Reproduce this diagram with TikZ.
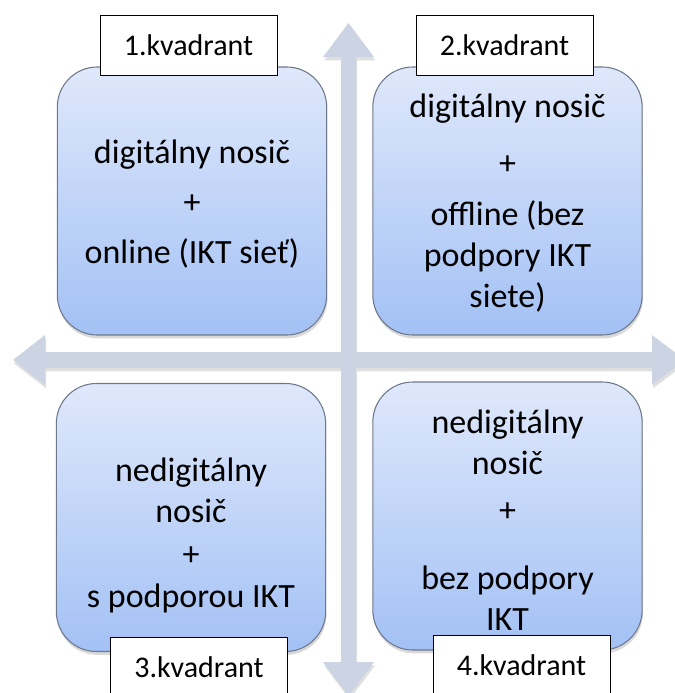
\documentclass[tikz,border=0pt]{standalone}
\usepackage{fontspec}
\setmainfont{Carlito}
\usetikzlibrary{shadows,positioning}

\definecolor{axisblue}{RGB}{204,212,228}
\definecolor{boxtop}{RGB}{223,232,251}
\definecolor{boxbottom}{RGB}{163,193,245}
\definecolor{boxline}{RGB}{110,120,140}

\begin{document}
\begin{tikzpicture}
[
	x=0.75pt,y=-0.75pt,
	quad/.style={rectangle,rounded corners=30pt,draw=boxline,line width=0.8pt,top color=boxtop,bottom color=boxbottom,minimum width=202pt,minimum height=201pt,align=center,font=\fontsize{25.5}{31}\selectfont,drop shadow={shadow xshift=0.6pt,shadow yshift=-2.5pt,opacity=0.3}},
	tag/.style={rectangle,draw=black,fill=white,line width=0.6pt,minimum width=132.75pt,minimum height=45pt,inner sep=0pt,font=\fontsize{22.5}{26}\selectfont},
	axis/.style={fill=axisblue,drop shadow={shadow xshift=0.8pt,shadow yshift=-2.5pt,opacity=0.25}},
]
	\useasboundingbox (0,0) rectangle (675,693);

	\begin{scope}
		\fill[axis] (348.5,23) -- (374,57) -- (356,57) -- (356,352) -- (652,352) -- (652,335) -- (685,360) -- (652,385) -- (652,368)
			-- (356,368) -- (356,662) -- (374,662) -- (348.5,696) -- (323,662) -- (341,662) -- (341,368) -- (45,368) -- (45,385)
			-- (13,360) -- (45,335) -- (45,352) -- (341,352) -- (341,57) -- (323,57) -- cycle;
	\end{scope}

	\begin{scope}
		\node[quad] (q1) at (192,201) {\raisebox{0pt}[\dimexpr\height+5pt\relax]{digitálny nosič}\\[6.5pt]+\\[6.5pt]online (IKT sieť)};
		\node[quad] (q2) at (507.5,201) {\raisebox{0pt}[\dimexpr\height+3pt\relax]{digitálny nosič}\\[12pt]+\\[7pt]offline (bez\\podpory IKT\\siete)};
		\node[quad] (q3) at (191,517.5) {\raisebox{0pt}[\dimexpr\height+27pt\relax]{nedigitálny}\\nosič\\[1pt]+\\[1pt]s podporou IKT};
		\node[quad] (q4) at (507.5,516) {\raisebox{0pt}[\dimexpr\height+6pt\relax]{nedigitálny}\\nosič\\[4pt]+\\[20pt]bez podpory\\IKT};
	\end{scope}

	\begin{scope}
		\node[tag] (t1) at (188.5,45) {1.kvadrant};
		\node[tag] (t2) at (504.5,45) {2.kvadrant};
		\node[tag] (t3) at (199,667) {3.kvadrant};
		\node[tag] (t4) at (521.5,665) {4.kvadrant};
	\end{scope}
\end{tikzpicture}
\end{document}
